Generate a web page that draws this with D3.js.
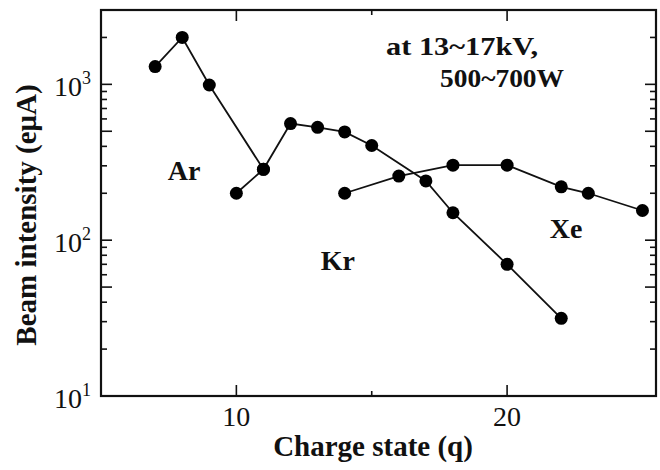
<!DOCTYPE html>
<html lang="en">
<head>
  <meta charset="UTF-8">
  <title>Beam intensity vs charge state</title>
  <script src="https://d3js.org/d3.v7.min.js"></script>
</head>
<style>
  body { margin: 0; background: #fff; }
  * { font-family: "Liberation Serif", "Times New Roman", serif; }
  .ticklabel { font-size: 28px; fill: #111; }
  .axislabel { font-size: 29px; font-weight: bold; fill: #111; }
  .annot { font-size: 26px; font-weight: bold; fill: #111; }
  .series-label { font-size: 28px; font-weight: bold; fill: #111; }
</style>
<body>
<div id="chart"></div>
<script>
  // ## Data
  const arCharge = [7, 8, 9, 11];
  const arIntensity = [1300, 2000, 990, 285];

  const krCharge = [10, 11, 12, 13, 14, 15, 17, 18, 20, 22];
  const krIntensity = [200, 285, 560, 530, 495, 405, 240, 150, 70, 31.5];

  const xeCharge = [14, 16, 18, 20, 22, 23, 25];
  const xeIntensity = [200, 258, 303, 303, 220, 200, 155];

  const xTickValues = [10, 20];
  const xMinorTicks = [15];
  const yDecades = [10, 100, 1000];

  const seriesNames = ["Ar", "Kr", "Xe"];

  async function drawChart() {
    const dimensions = {
      width: 660,
      height: 470,
      margin: {top: 10, right: 4, bottom: 74, left: 101}
    };
    dimensions.boundedWidth = dimensions.width - dimensions.margin.left - dimensions.margin.right;
    dimensions.boundedHeight = dimensions.height - dimensions.margin.top - dimensions.margin.bottom;

    const svg = d3.select("#chart")
      .append("svg")
        .attr("width", dimensions.width)
        .attr("height", dimensions.height);

    const bounds = svg.append("g")
      .attr("transform", `translate(${dimensions.margin.left},${dimensions.margin.top})`);

    // ## Scales
    const xScale = d3.scaleLinear()
      .domain([5, 25.5])
      .range([0, dimensions.boundedWidth]);

    const yScale = d3.scaleLog()
      .domain([10, 3000])
      .range([dimensions.boundedHeight, 0]);

    // ## Axes (ticks point inward, on all four sides)
    const yTicksAll = yScale.ticks().filter(d => d < 3000);
    const yTickSize = d => (yDecades.includes(d) || [50, 500].includes(d)) ? 11 : 6;

    [{y: dimensions.boundedHeight, sign: -1}, {y: 0, sign: 1}].forEach(t => {
      const g = bounds.append("g")
        .attr("transform", `translate(0,${t.y})`);
      g.selectAll("line.major")
        .data(xTickValues)
        .join("line")
        .attr("x1", d => xScale(d)).attr("x2", d => xScale(d))
        .attr("y1", 0).attr("y2", t.sign * 11)
        .attr("stroke", "#111").attr("stroke-width", 1.6);
      g.selectAll("line.minor")
        .data(xMinorTicks)
        .join("line")
        .attr("x1", d => xScale(d)).attr("x2", d => xScale(d))
        .attr("y1", 0).attr("y2", t.sign * 5)
        .attr("stroke", "#111").attr("stroke-width", 1.6);
    });

    [{x: 0, sign: 1}, {x: dimensions.boundedWidth, sign: -1}].forEach(t => {
      bounds.append("g")
        .selectAll("line")
        .data(yTicksAll)
        .join("line")
        .attr("x1", t.x).attr("x2", d => t.x + t.sign * yTickSize(d))
        .attr("y1", d => yScale(d)).attr("y2", d => yScale(d))
        .attr("stroke", "#111").attr("stroke-width", 1.6);
    });

    // frame
    bounds.append("rect")
      .attr("width", dimensions.boundedWidth)
      .attr("height", dimensions.boundedHeight)
      .attr("fill", "none")
      .attr("stroke", "#111")
      .attr("stroke-width", 2.2);

    // x tick labels
    bounds.selectAll(".xlabel")
      .data(xTickValues)
      .join("text")
      .attr("class", "ticklabel")
      .attr("x", d => xScale(d))
      .attr("y", dimensions.boundedHeight + 30)
      .attr("text-anchor", "middle")
      .text(d => d);

    // y tick labels 10^n
    const yLabels = bounds.selectAll(".ylabel")
      .data(yDecades)
      .join("text")
      .attr("class", "ticklabel")
      .attr("x", -10)
      .attr("y", d => yScale(d) + 12)
      .attr("text-anchor", "end");
    yLabels.append("tspan").text("10");
    yLabels.append("tspan")
      .attr("dy", -12)
      .style("font-size", "18px")
      .text(d => Math.round(Math.log10(d)));

    // axis titles
    svg.append("text")
      .attr("class", "axislabel")
      .attr("x", 373)
      .attr("y", 456)
      .attr("text-anchor", "middle")
      .text("Charge state (q)");

    svg.append("text")
      .attr("class", "axislabel")
      .attr("transform", "translate(36,215) rotate(-90)")
      .attr("text-anchor", "middle")
      .text("Beam intensity (eμA)");

    // ## Data series
    const series = [
      {name: seriesNames[0], x: arCharge, y: arIntensity},
      {name: seriesNames[1], x: krCharge, y: krIntensity},
      {name: seriesNames[2], x: xeCharge, y: xeIntensity}
    ];

    const line = d3.line()
      .x(d => xScale(d[0]))
      .y(d => yScale(d[1]));

    series.forEach(s => {
      const pts = d3.zip(s.x, s.y);
      bounds.append("path")
        .datum(pts)
        .attr("d", line)
        .attr("fill", "none")
        .attr("stroke", "#111")
        .attr("stroke-width", 1.8);
      bounds.selectAll(null)
        .data(pts)
        .join("circle")
        .attr("cx", d => xScale(d[0]))
        .attr("cy", d => yScale(d[1]))
        .attr("r", 6.5)
        .attr("fill", "#000");
    });

    // ## Annotations
    const seriesLabelPos = [
      {name: "Ar", x: 8.07, y: 243},
      {name: "Kr", x: 13.75, y: 64},
      {name: "Xe", x: 22.18, y: 103}
    ];
    bounds.selectAll(".series-label")
      .data(seriesLabelPos)
      .join("text")
      .attr("class", "series-label")
      .attr("x", d => xScale(d.x))
      .attr("y", d => yScale(d.y))
      .attr("text-anchor", "middle")
      .text(d => d.name);

    bounds.append("text")
      .attr("class", "annot")
      .attr("x", 386 - dimensions.margin.left)
      .attr("y", 55 - dimensions.margin.top)
      .attr("textLength", 152)
      .attr("lengthAdjust", "spacingAndGlyphs")
      .text("at 13~17kV,");
    bounds.append("text")
      .attr("class", "annot")
      .attr("x", 440 - dimensions.margin.left)
      .attr("y", 87 - dimensions.margin.top)
      .attr("textLength", 124)
      .attr("lengthAdjust", "spacingAndGlyphs")
      .text("500~700W");
  }

  drawChart();
</script>
</body>
</html>
